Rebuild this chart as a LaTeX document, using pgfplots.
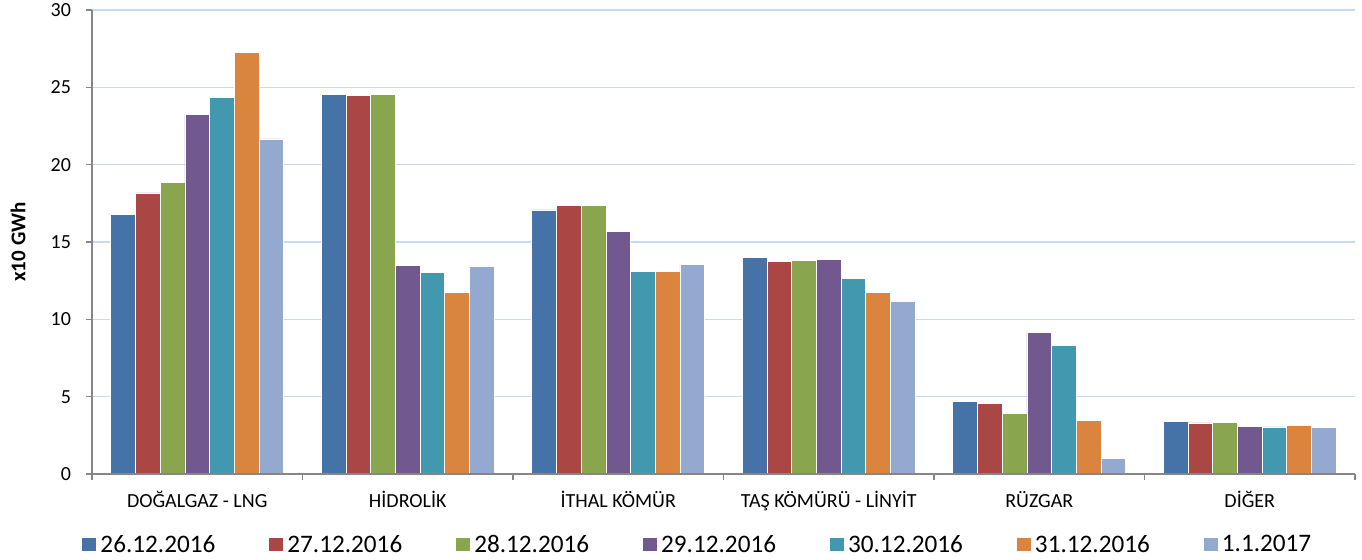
\documentclass[border=0pt]{standalone}
\usepackage{fontspec}
\setmainfont{Carlito}
\usepackage{pgfplots}
\pgfplotsset{compat=1.18}
\definecolor{c1}{HTML}{4572A7}
\definecolor{c2}{HTML}{AA4643}
\definecolor{c3}{HTML}{89A54E}
\definecolor{c4}{HTML}{71588F}
\definecolor{c5}{HTML}{4198AF}
\definecolor{c6}{HTML}{DB843D}
\definecolor{c7}{HTML}{93A9CF}
\definecolor{gridc}{HTML}{C8DAEE}
\definecolor{axc}{HTML}{868686}
\begin{document}
\begin{tikzpicture}
\begin{axis}[
  name=ax,
  at={(0,0)}, anchor=south west,
  scale only axis,
  width=631.5pt, height=232pt,
  ybar=0pt, bar width=12.35pt,
  xmin=-0.5, xmax=5.5,
  ymin=0, ymax=30,
  ytick={0,5,...,30},
  xtick={0,...,5},
  xticklabels={DOĞALGAZ - LNG, HİDROLİK, İTHAL KÖMÜR, TAŞ KÖMÜRÜ - LİNYİT, RÜZGAR, DİĞER},
  minor xtick={-0.5,0.5,...,5.5},
  major x tick style={draw=none},
  minor x tick style={draw=axc, line width=0.6pt},
  minor tick length=3pt,
  major tick length=3pt,
  y tick style={draw=axc, line width=0.6pt},
  tick align=outside,
  tick pos=left,
  axis x line*=bottom,
  axis y line*=left,
  axis line style={draw=axc, line width=0.8pt},
  ymajorgrids,
  grid style={draw=gridc, line width=0.7pt},
  ticklabel style={font=\fontsize{10}{12}\selectfont, text=black},
  /pgf/number format/assume math mode=true,
  xticklabel style={yshift=-2pt},
  yticklabel style={xshift=-4pt},
  ylabel={\textbf{x10 GWh}},
  ylabel style={font=\fontsize{10.5}{12}\selectfont, at={(axis description cs:0,0.5)}, anchor=center, yshift=37pt},
  legend style={draw=none, fill=none, at={(0.4805,-0.153)}, anchor=center,
    font=\fontsize{12.6}{14}\selectfont, legend columns=7,
    /tikz/every even column/.append style={column sep=25pt},
    /tikz/every odd column/.append style={column sep=0pt}},
  legend image code/.code={\fill[#1, draw=none] (-1.5pt,-3.25pt) rectangle (5.5pt,3.25pt);},
  every axis plot/.append style={draw=white, line width=0.3pt},
]
\addplot[fill=c1] coordinates {(0,16.79) (1,24.52) (2,17.08) (3,14.01) (4,4.68) (5,3.38)};
\addplot[fill=c2] coordinates {(0,18.18) (1,24.48) (2,17.37) (3,13.73) (4,4.55) (5,3.30)};
\addplot[fill=c3] coordinates {(0,18.83) (1,24.52) (2,17.37) (3,13.81) (4,3.92) (5,3.34)};
\addplot[fill=c4] coordinates {(0,23.25) (1,13.51) (2,15.66) (3,13.85) (4,9.16) (5,3.08)};
\addplot[fill=c5] coordinates {(0,24.35) (1,13.01) (2,13.08) (3,12.65) (4,8.30) (5,3.04)};
\addplot[fill=c6] coordinates {(0,27.26) (1,11.72) (2,13.12) (3,11.76) (4,3.47) (5,3.15)};
\addplot[fill=c7] coordinates {(0,21.66) (1,13.40) (2,13.57) (3,11.14) (4,1.01) (5,2.99)};
\legend{26.12.2016, 27.12.2016, 28.12.2016, 29.12.2016, 30.12.2016, 31.12.2016, 1.1.2017}
\draw[axc, line width=0.8pt] (rel axis cs:0,0) -- (rel axis cs:1,0);
\end{axis}
\pgfresetboundingbox
\path (-46pt,-42.5pt) rectangle (635pt,237pt);
\end{tikzpicture}
\end{document}
